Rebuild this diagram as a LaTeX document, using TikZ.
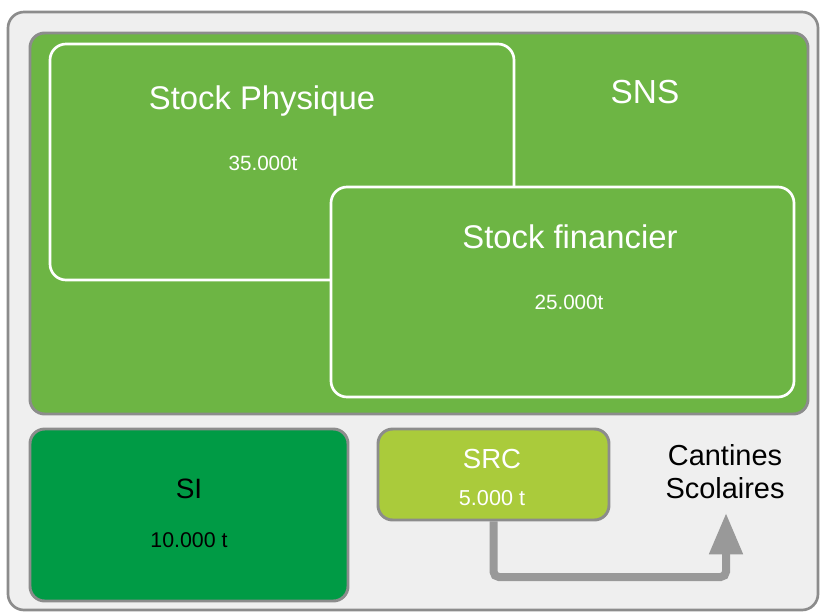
\documentclass[tikz,border=0pt]{standalone}
\usepackage{fontspec}
\setmainfont{Liberation Sans}
\usetikzlibrary{arrows.meta}
\definecolor{bgray}{HTML}{EFEFEF}
\definecolor{lgray}{HTML}{8C8C8C}
\definecolor{snsgreen}{HTML}{6DB544}
\definecolor{sigreen}{HTML}{009B45}
\definecolor{srclime}{HTML}{AACB3B}
\definecolor{arrgray}{HTML}{999999}
\tikzset{
  box/.style={rectangle, inner sep=0pt, line width=2.2pt},
  lbl/.style={inner sep=0pt, font=\fontsize{#1}{#1}\selectfont,
    text height=0.716*#1, text depth=0pt, anchor=center},
}
\begin{document}
\begin{tikzpicture}[x=0.75pt,y=-0.75pt]
\useasboundingbox (0,0) rectangle (820,615);
\node[box, draw=lgray, fill=bgray, rounded corners=12pt, line width=2pt,
  minimum width=810*0.75pt, minimum height=598*0.75pt] (outer) at (413,311) {};
\node[box, draw=lgray, fill=snsgreen, rounded corners=11pt,
  minimum width=778*0.75pt, minimum height=381*0.75pt] (sns) at (419,223.5) {};
\node[box, draw=white, fill=snsgreen, rounded corners=12pt, line width=2pt,
  minimum width=464*0.75pt, minimum height=236*0.75pt] (phys) at (282,162) {};
\node[box, draw=white, fill=snsgreen, rounded corners=12pt, line width=2pt,
  minimum width=463*0.75pt, minimum height=210*0.75pt] (fin) at (562.5,292) {};
\node[box, draw=lgray, fill=sigreen, rounded corners=11pt,
  minimum width=318*0.75pt, minimum height=172*0.75pt] (si) at (189,515) {};
\node[box, draw=lgray, fill=srclime, rounded corners=11pt,
  minimum width=231*0.75pt, minimum height=91*0.75pt] (src) at (493.5,474.5) {};

\node[lbl=24.6pt, text=white] (tphys) at (262,98) {Stock Physique};
\node[lbl=15.5pt, text=white] (qphys) at (263,163) {35.000t};
\node[lbl=25pt, text=white] (tsns) at (645,92) {SNS};
\node[lbl=24.6pt, text=white] (tfin) at (570,237) {Stock financier};
\node[lbl=15.5pt, text=white] (qfin) at (569,302) {25.000t};
\node[lbl=21pt, text=black] (tsi) at (189,488) {SI};
\node[lbl=16pt, text=black] (qsi) at (189,540) {10.000 t};
\node[lbl=20.7pt, text=white] (tsrc) at (492,459) {SRC};
\node[lbl=16.2pt, text=white] (qsrc) at (492,498) {5.000 t};
\node[lbl=21.7pt, text=black] (tcan1) at (725,455) {Cantines};
\node[lbl=21.7pt, text=black] (tcan2) at (725,488) {Scolaires};

\coordinate (tip) at (726,513);
\draw[arrgray, line width=6pt, rounded corners=4pt,
  -{Triangle[length=31pt,width=24pt]}]
  (src.south) -- (493.5,577) -- (726,577) -- (tip);
\end{tikzpicture}
\end{document}
